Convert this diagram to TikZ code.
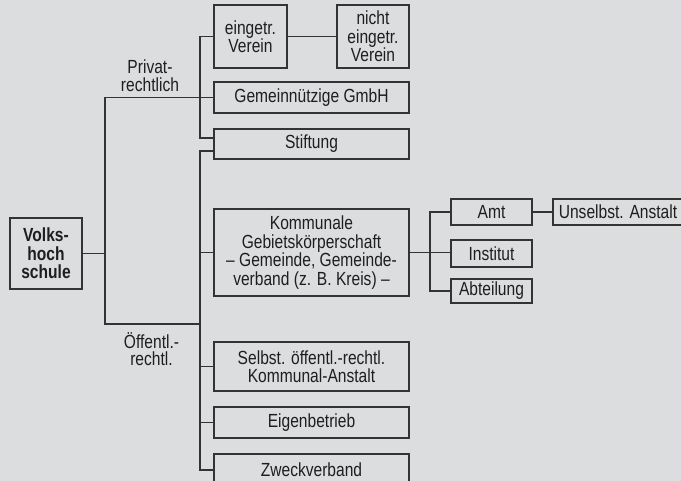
\documentclass[tikz,border=0pt]{standalone}
\usepackage{fontspec}
\setmainfont{Liberation Sans}[FakeStretch=0.82]
\definecolor{bg}{HTML}{DCDDDF}
\definecolor{linec}{HTML}{333333}
\definecolor{txt}{HTML}{1E1E1E}
\begin{document}
\begin{tikzpicture}[x=1pt,y=-1pt,
  box/.style={draw=linec, line width=1.3pt, inner sep=0pt, align=center, text=txt,
    font=\fontsize{19}{18.4}\selectfont},
  mainbox/.style={box, line width=2.6pt, font=\bfseries\fontsize{19}{18.4}\selectfont},
  lbl/.style={inner sep=0pt, align=center, text=txt, font=\fontsize{19}{17.5}\selectfont},
  conn/.style={draw=linec, line width=1.3pt}]
\useasboundingbox (0,0) rectangle (681,481);
\clip (0,0) rectangle (681,481);
\fill[bg] (0,0) rectangle (681,481);

\node[mainbox, minimum width=72pt, minimum height=71pt] (vhs) at (46,253.5) {Volks-\\hoch\\schule};

\node[box, minimum width=73pt, minimum height=63pt] (ev) at (250.5,36.5) {eingetr.\\Verein};
\node[box, minimum width=72pt, minimum height=63pt] (nev) at (373,36.5) {nicht\\eingetr.\\Verein};
\node[box, minimum width=195pt, minimum height=31pt] (gmbh) at (311.5,97.5) {Gemeinnützige GmbH};
\node[box, minimum width=195pt, minimum height=30pt] (stift) at (311.5,144) {Stiftung};
\node[box, minimum width=195pt, minimum height=87pt] (komm) at (311.5,252.5) {Kommunale\\Gebietskörperschaft\\– Gemeinde, Gemeinde-\\verband (z. B. Kreis) –};
\node[box, minimum width=195pt, minimum height=49pt] (selbst) at (311.5,366.5) {Selbst. öffentl.-rechtl.\\Kommunal-Anstalt};
\node[box, minimum width=195pt, minimum height=31pt] (eigen) at (311.5,422.5) {Eigenbetrieb};
\node[box, minimum width=195pt, minimum height=32pt] (zweck) at (311.5,470) {Zweckverband};

\node[box, minimum width=81pt, minimum height=26pt] (amt) at (491.5,212) {Amt};
\node[box, minimum width=130pt, minimum height=26pt] (unselbst) at (618,212) {Unselbst. Anstalt};
\node[box, minimum width=81pt, minimum height=27pt] (inst) at (491.5,253.5) {Institut};
\node[box, minimum width=81pt, minimum height=24pt] (abt) at (491.5,291) {Abteilung};

\node[lbl] (priv) at (150,75.5) {Privat-\\rechtlich};
\node[lbl] (oeff) at (151.5,349) {Öffentl.-\\rechtl.};

\coordinate (t1a) at (105,97.5);
\coordinate (t1b) at (105,324);
\coordinate (t2b) at (200,138);
\coordinate (t3a) at (200,151);
\coordinate (t4) at (430,0);

\draw[conn] (vhs.east) -- (vhs.east -| t1a);
\draw[conn] (gmbh.west) -- (t1a) -- (t1b) -- (t1b -| t3a);
\draw[conn] (ev.west) -- (ev.west -| t2b) -- (t2b) -- (t2b -| stift.west);
\draw[conn] (stift.west |- t3a) -- (t3a) |- (zweck.west);
\draw[conn] (komm.west) -- (komm.west -| t3a);
\draw[conn] (selbst.west) -- (selbst.west -| t3a);
\draw[conn] (eigen.west) -- (eigen.west -| t3a);
\draw[conn] (ev.east) -- (nev.west);
\draw[conn] (komm.east) -- (komm.east -| inst.west);
\draw[conn] (amt.west) -| (abt.west -| t4) -- (abt.west);
\draw[conn] (amt.east) -- (unselbst.west);
\end{tikzpicture}
\end{document}
